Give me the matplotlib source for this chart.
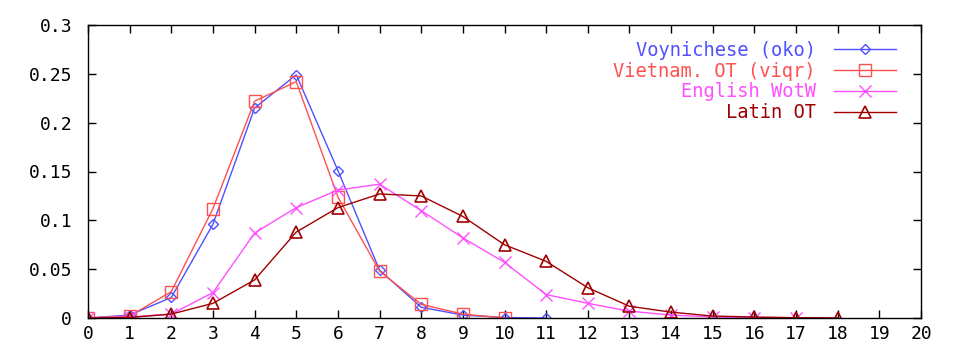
import matplotlib
matplotlib.use("Agg")
import matplotlib.pyplot as plt

x_voy = [0, 1, 2, 3, 4, 5, 6, 7, 8, 9, 10, 11]
y_voy = [0.0, 0.003, 0.021, 0.096, 0.215, 0.249, 0.151, 0.049, 0.011, 0.003, 0.0005, 0.0]

x_vie = [0, 1, 2, 3, 4, 5, 6, 7, 8, 9, 10]
y_vie = [0.0, 0.002, 0.027, 0.112, 0.222, 0.242, 0.124, 0.048, 0.014, 0.004, 0.0]

x_eng = [0, 1, 2, 3, 4, 5, 6, 7, 8, 9, 10, 11, 12, 13, 14, 15, 16, 17]
y_eng = [0.0, 0.001, 0.004, 0.026, 0.087, 0.113, 0.131, 0.137, 0.110, 0.082, 0.057, 0.024,
         0.015, 0.007, 0.003, 0.001, 0.0005, 0.0002]

x_lat = [0, 1, 2, 3, 4, 5, 6, 7, 8, 9, 10, 11, 12, 13, 14, 15, 16, 17, 18]
y_lat = [0.0, 0.0005, 0.004, 0.015, 0.039, 0.088, 0.113, 0.127, 0.125, 0.104, 0.075, 0.058,
         0.031, 0.012, 0.006, 0.002, 0.001, 0.0003, 0.0001]

labels = ["Voynichese (oko)", "Vietnam. OT (viqr)", "English WotW", "Latin OT"]
colors = ["#5050ff", "#ff5050", "#ff50ff", "#a00000"]

xticks = list(range(0, 21))
yticks = [0, 0.05, 0.1, 0.15, 0.2, 0.25, 0.3]
yticklabels = ["0", "0.05", "0.1", "0.15", "0.2", "0.25", "0.3"]

plt.rcParams['font.family'] = ['DejaVu Sans Mono']

fig = plt.figure(figsize=(9.6, 3.6), dpi=100)
ax = fig.add_axes([88/960, 1-318/360, (921-88)/960, (318-25)/360])

ax.plot(x_voy, y_voy, color=colors[0], lw=1, marker='D', ms=5.5, mfc='none', mec=colors[0], mew=1, label=labels[0])
ax.plot(x_vie, y_vie, color=colors[1], lw=1, marker='s', ms=8, mfc='none', mec=colors[1], mew=1, label=labels[1])
ax.plot(x_eng, y_eng, color=colors[2], lw=1, marker='x', ms=8, mec=colors[2], mew=1, label=labels[2])
ax.plot(x_lat, y_lat, color=colors[3], lw=1, marker='^', ms=8, mfc='none', mec=colors[3], mew=1.2, label=labels[3])

ax.set_xlim(0, 20)
ax.set_ylim(0, 0.3)
ax.set_xticks(xticks)
ax.set_xticklabels([str(t) for t in xticks])
ax.set_yticks(yticks)
ax.set_yticklabels(yticklabels)
ax.tick_params(direction='in', length=6, width=1, top=True, right=True, labelsize=13)
ax.tick_params(axis='y', pad=11.5)
ax.tick_params(axis='x', pad=5)
for s in ax.spines.values():
    s.set_linewidth(1)

leg = ax.legend(loc='upper right', bbox_to_anchor=(0.9785, 0.972), markerfirst=False, frameon=False,
                handlelength=3.3, fontsize=13.5, labelspacing=0.1, handletextpad=0.95, borderaxespad=0)
for t, c in zip(leg.get_texts(), colors):
    t.set_color(c)
    t.set_ha('right')

fig.savefig("out.png", dpi=100)
